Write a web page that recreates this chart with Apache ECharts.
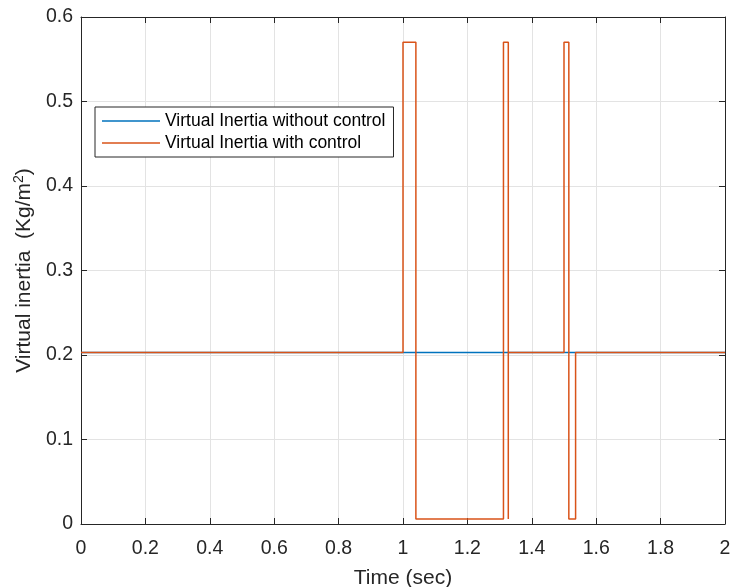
<!DOCTYPE html>
<html>
<head>
<meta charset="utf-8">
<script src="https://cdn.jsdelivr.net/npm/echarts@6/dist/echarts.min.js"></script>
<style>
  html, body { margin: 0; padding: 0; background: #fff; }
  #chart { width: 730px; height: 587px; }
</style>
</head>
<body>
<div id="chart"></div>
<script>
// Virtual inertia over time, with and without control (step traces)
const seriesNames = ['Virtual Inertia without control', 'Virtual Inertia with control'];

// Without control: constant inertia
const timeNoCtrl = [0, 2];
const inertiaNoCtrl = [0.203, 0.203];

// With control: switched inertia (step changes)
const timeCtrl = [0, 1.0, 1.0, 1.04, 1.04, 1.312, 1.312, 1.327, 1.327, 1.327, 1.5, 1.5, 1.515, 1.515, 1.536, 1.536, 2];
const inertiaCtrl = [0.203, 0.203, 0.57, 0.57, 0.006, 0.006, 0.57, 0.57, 0.006, 0.203, 0.203, 0.57, 0.57, 0.006, 0.006, 0.203, 0.203];

const xTicks = { min: 0, max: 2, interval: 0.2 };
const yTicks = { min: 0, max: 0.6, interval: 0.1 };

const colors = ['#0072BD', '#D95319'];
const font = 'Liberation Sans, Arial, Helvetica, sans-serif';
const axisColor = '#262626';

const pairs = (xs, ys) => xs.map((x, i) => [x, ys[i]]);

const chart = echarts.init(document.getElementById('chart'), null, { renderer: 'canvas' });

const tickStyle = { show: true, inside: true, length: 6, lineStyle: { color: axisColor, width: 1 } };

chart.setOption({
  backgroundColor: '#fff',
  animation: false,
  color: colors,
  grid: { left: 81, right: 5, top: 17, bottom: 63, containLabel: false, outerBoundsMode: 'none' },
  legend: {
    orient: 'vertical',
    left: 95,
    top: 107,
    data: seriesNames,
    icon: 'rect',
    backgroundColor: '#fff',
    borderColor: '#262626',
    borderWidth: 1,
    padding: [5, 8, 5, 7],
    itemWidth: 58,
    itemHeight: 1.5,
    itemGap: 4,
    textStyle: { fontFamily: font, fontSize: 17.5, color: '#000', padding: [0, 0, 0, 0] }
  },
  xAxis: [{
    type: 'value',
    min: xTicks.min, max: xTicks.max, interval: xTicks.interval,
    name: 'Time (sec)',
    nameLocation: 'middle',
    nameGap: 44,
    nameTextStyle: { fontFamily: font, fontSize: 21, color: axisColor },
    axisLine: { show: true, onZero: false, lineStyle: { color: axisColor, width: 1 } },
    axisTick: tickStyle,
    axisLabel: { fontFamily: font, fontSize: 19.5, color: axisColor, margin: 15 },
    splitLine: { show: true, lineStyle: { color: '#e3e3e3', width: 1 } }
  }, {
    type: 'value',
    position: 'top',
    min: xTicks.min, max: xTicks.max, interval: xTicks.interval,
    axisLine: { show: true, onZero: false, lineStyle: { color: axisColor, width: 1 } },
    axisTick: tickStyle,
    axisLabel: { show: false },
    splitLine: { show: false }
  }],
  yAxis: [{
    type: 'value',
    min: yTicks.min, max: yTicks.max, interval: yTicks.interval,
    name: 'Virtual inertia  (Kg/m{sup|2})',
    nameLocation: 'middle',
    nameGap: 43,
    nameTextStyle: {
      fontFamily: font, fontSize: 21, color: axisColor,
      rich: { sup: { fontFamily: font, fontSize: 14, color: axisColor, verticalAlign: 'top', padding: [0, 0, 10, 0] } }
    },
    axisLine: { show: true, onZero: false, lineStyle: { color: axisColor, width: 1 } },
    axisTick: tickStyle,
    axisLabel: { fontFamily: font, fontSize: 19.5, color: axisColor, margin: 8 },
    splitLine: { show: true, lineStyle: { color: '#e3e3e3', width: 1 } }
  }, {
    type: 'value',
    position: 'right',
    min: yTicks.min, max: yTicks.max, interval: yTicks.interval,
    axisLine: { show: true, onZero: false, lineStyle: { color: axisColor, width: 1 } },
    axisTick: tickStyle,
    axisLabel: { show: false },
    splitLine: { show: false }
  }],
  series: [{
    name: seriesNames[0],
    type: 'line',
    data: pairs(timeNoCtrl, inertiaNoCtrl),
    symbol: 'none',
    lineStyle: { color: colors[0], width: 1.5 },
    itemStyle: { color: colors[0] },
    z: 2
  }, {
    name: seriesNames[1],
    type: 'line',
    data: pairs(timeCtrl, inertiaCtrl),
    symbol: 'none',
    lineStyle: { color: colors[1], width: 1.5 },
    itemStyle: { color: colors[1] },
    z: 3
  }]
});
</script>
</body>
</html>
